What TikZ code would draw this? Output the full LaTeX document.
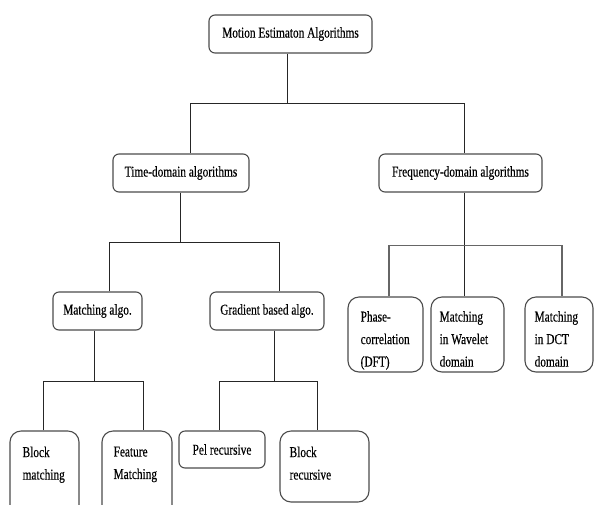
\documentclass[tikz,border=0pt]{standalone}
\usepackage{fontspec}
\setmainfont[FakeStretch=0.755,FakeBold=0.35]{Liberation Serif}
\begin{document}
\begin{tikzpicture}[x=1pt,y=-1pt,
  box/.style={draw=black!70, line width=1.1pt, rounded corners=6pt, fill=white,
    inner sep=0pt, font=\fontsize{15}{22.5}\selectfont},
  tallbox/.style={box, rounded corners=11pt},
  boxtext/.style={anchor=north west, inner sep=0pt, align=left,
    font=\fontsize{15}{22.5}\selectfont},
  link/.style={draw=black!85, line width=0.9pt}]
\clip (0,0) rectangle (596,504);
\useasboundingbox (0,0) rectangle (596,504);
\fill[white] (0,0) rectangle (596,504);

% top level
\node[box, minimum width=163pt, minimum height=38pt] (root) at (290.5,34) {Motion Estimaton Algorithms};

% second level
\node[box, minimum width=136pt, minimum height=38pt] (time) at (181,173) {Time-domain algorithms};
\node[box, minimum width=163pt, minimum height=38pt] (freq) at (460.5,173) {Frequency-domain algorithms};

% time-domain branch
\node[box, minimum width=89pt, minimum height=38pt] (match) at (97.5,311) {Matching algo.};
\node[box, minimum width=114pt, minimum height=38pt] (grad) at (267,311) {Gradient based algo.};

% frequency-domain branch
\node[tallbox, minimum width=75pt, minimum height=75pt] (phase) at (385.5,334.5) {};
\node[tallbox, minimum width=73pt, minimum height=75pt] (wave) at (467.5,334.5) {};
\node[tallbox, minimum width=68pt, minimum height=75pt] (dct) at (559,334.5) {};
\node[boxtext] (phaset) at ([xshift=13pt,yshift=-14.5pt]phase.north west) {Phase-\\correlation\\(DFT)};
\node[boxtext] (wavet) at ([xshift=9pt,yshift=-14.5pt]wave.north west) {Matching\\in Wavelet\\domain};
\node[boxtext] (dctt) at ([xshift=10pt,yshift=-14.5pt]dct.north west) {Matching\\in DCT\\domain};

% bottom level
\node[tallbox, minimum width=69pt, minimum height=89pt] (blockm) at (44.5,475.5) {};
\node[tallbox, minimum width=70pt, minimum height=89pt] (feat) at (137,475.5) {};
\node[box, minimum width=86pt, minimum height=37pt] (pel) at (222,449.5) {Pel recursive};
\node[tallbox, minimum width=89pt, minimum height=71pt] (blockr) at (324.5,466.5) {};
\node[boxtext] (blockmt) at ([xshift=13pt,yshift=-16pt]blockm.north west) {Block\\matching};
\node[boxtext] (featt) at ([xshift=12pt,yshift=-16pt]feat.north west) {Feature\\Matching};
\node[boxtext] (blockrt) at ([xshift=10pt,yshift=-16pt]blockr.north west) {Block\\recursive};

% connectors
\draw[link] ([xshift=-3.5pt]root.south) -- ++(0,50) coordinate (j1);
\draw[link] ([xshift=9pt]time.north) |- (j1) -| ([xshift=3.5pt]freq.north);

\draw[link] ([xshift=-1pt]time.south) -- ++(0,50) coordinate (j2);
\draw[link] ([xshift=11.5pt]match.north) |- (j2) -| ([xshift=12pt]grad.north);

\draw[link] ([xshift=3.5pt]freq.south) -- ++(0,53) coordinate (j3);
\draw[link, line width=1.4pt, draw=black!60] ([xshift=3.5pt]phase.north) |- (j3) -| ([xshift=3pt]dct.north);
\draw[link] (j3) -- (j3 |- wave.north);

\draw[link] ([xshift=-3.5pt]match.south) -- ++(0,51) coordinate (j4);
\draw[link] ([xshift=-1.5pt]blockm.north) |- (j4) -| ([xshift=6pt]feat.north);

\draw[link] ([xshift=7pt]grad.south) -- ++(0,51) coordinate (j5);
\draw[link] ([xshift=-3pt]pel.north) |- (j5) -| ([xshift=-7.5pt]blockr.north);
\end{tikzpicture}
\end{document}
